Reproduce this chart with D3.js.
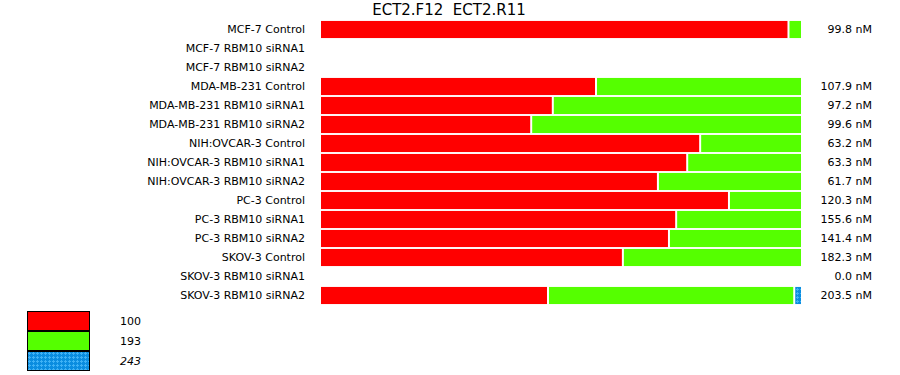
<!DOCTYPE html>
<html>
<head>
<meta charset="utf-8">
<script src="https://cdn.jsdelivr.net/npm/d3@7"></script>
<style>
  body { margin: 0; background: #fff; }
  text { font-family: "DejaVu Sans", Verdana, sans-serif; }
</style>
</head>
<body>
<div id="chart"></div>
<script>
// samples, top to bottom
const samples = [
  "MCF-7 Control", "MCF-7 RBM10 siRNA1", "MCF-7 RBM10 siRNA2",
  "MDA-MB-231 Control", "MDA-MB-231 RBM10 siRNA1", "MDA-MB-231 RBM10 siRNA2",
  "NIH:OVCAR-3 Control", "NIH:OVCAR-3 RBM10 siRNA1", "NIH:OVCAR-3 RBM10 siRNA2",
  "PC-3 Control", "PC-3 RBM10 siRNA1", "PC-3 RBM10 siRNA2",
  "SKOV-3 Control", "SKOV-3 RBM10 siRNA1", "SKOV-3 RBM10 siRNA2"
];
// product sizes (legend)
const products = ["100", "193", "243"];
// share of each product per sample (%)
const share100 = [97.6, 0, 0, 57.5, 48.5, 44.0, 79.2, 76.5, 70.4, 85.2, 74.2, 72.7, 63.1, 0, 47.5];
const share193 = [2.4, 0, 0, 42.5, 51.5, 56.0, 20.8, 23.5, 29.6, 14.8, 25.8, 27.3, 36.9, 0, 51.3];
const share243 = [0, 0, 0, 0, 0, 0, 0, 0, 0, 0, 0, 0, 0, 0, 1.2];
const totals = ["99.8 nM", "", "", "107.9 nM", "97.2 nM", "99.6 nM", "63.2 nM", "63.3 nM", "61.7 nM",
                "120.3 nM", "155.6 nM", "141.4 nM", "182.3 nM", "0.0 nM", "203.5 nM"];
const title = "ECT2.F12  ECT2.R11";

const width = 900, height = 375;
const svg = d3.select("#chart").append("svg")
  .attr("width", width).attr("height", height);

// dotted blue fill for the third product
const pat = svg.append("defs").append("pattern")
  .attr("id", "dots").attr("width", 4).attr("height", 4)
  .attr("patternUnits", "userSpaceOnUse");
pat.append("rect").attr("width", 4).attr("height", 4).attr("fill", "#0a8de0");
pat.append("rect").attr("x", 1).attr("y", 0).attr("width", 1).attr("height", 3).attr("fill", "#3fb2f5");
pat.append("rect").attr("x", 0).attr("y", 1).attr("width", 3).attr("height", 1).attr("fill", "#3fb2f5");

const colors = ["#ff0000", "#55ff00", "url(#dots)"];

const x = d3.scaleLinear().domain([0, 100]).range([321, 801]);
const y = d3.scaleBand().domain(samples).range([20, 305]).paddingInner(0.1).paddingOuter(0.05);

svg.append("text")
  .attr("x", 449).attr("y", 15)
  .attr("text-anchor", "middle")
  .style("font-size", "15px")
  .style("white-space", "pre")
  .text(title);

const rows = samples.map((s, i) => {
  const vals = [share100[i], share193[i], share243[i]];
  let cum = 0;
  const segs = [];
  vals.forEach((v, k) => {
    if (v > 0) segs.push({ k: k, x0: cum, x1: cum + v });
    cum += v;
  });
  return { name: s, segs: segs, total: totals[i] };
});

const row = svg.selectAll(".row").data(rows).enter().append("g").attr("class", "row");

row.append("text")
  .attr("x", 305)
  .attr("y", d => y(d.name) + y.bandwidth() / 2)
  .attr("dy", "0.35em")
  .attr("text-anchor", "end")
  .style("font-size", "11px")
  .text(d => d.name);

row.append("text")
  .attr("x", 872)
  .attr("y", d => y(d.name) + y.bandwidth() / 2)
  .attr("dy", "0.35em")
  .attr("text-anchor", "end")
  .style("font-size", "11px")
  .text(d => d.total);

row.selectAll("rect")
  .data(d => d.segs.map((s, j) => Object.assign({ name: d.name, last: j === d.segs.length - 1 }, s)))
  .enter().append("rect")
  .attr("x", d => x(d.x0))
  .attr("y", d => y(d.name))
  .attr("width", d => Math.max(1, x(d.x1) - x(d.x0) - (d.last ? 0 : 2)))
  .attr("height", y.bandwidth())
  .attr("fill", d => colors[d.k]);

// legend
const leg = svg.append("g").attr("class", "legend");
products.forEach((p, i) => {
  leg.append("rect")
    .attr("x", 27.5).attr("y", 311.5 + i * 20)
    .attr("width", 62).attr("height", 19)
    .attr("fill", colors[i])
    .attr("stroke", "#000").attr("stroke-width", 1);
  leg.append("text")
    .attr("x", 120).attr("y", 321 + i * 20)
    .attr("dy", "0.35em")
    .style("font-size", "11px")
    .style("font-style", i === 2 ? "italic" : "normal")
    .text(p);
});
</script>
</body>
</html>
